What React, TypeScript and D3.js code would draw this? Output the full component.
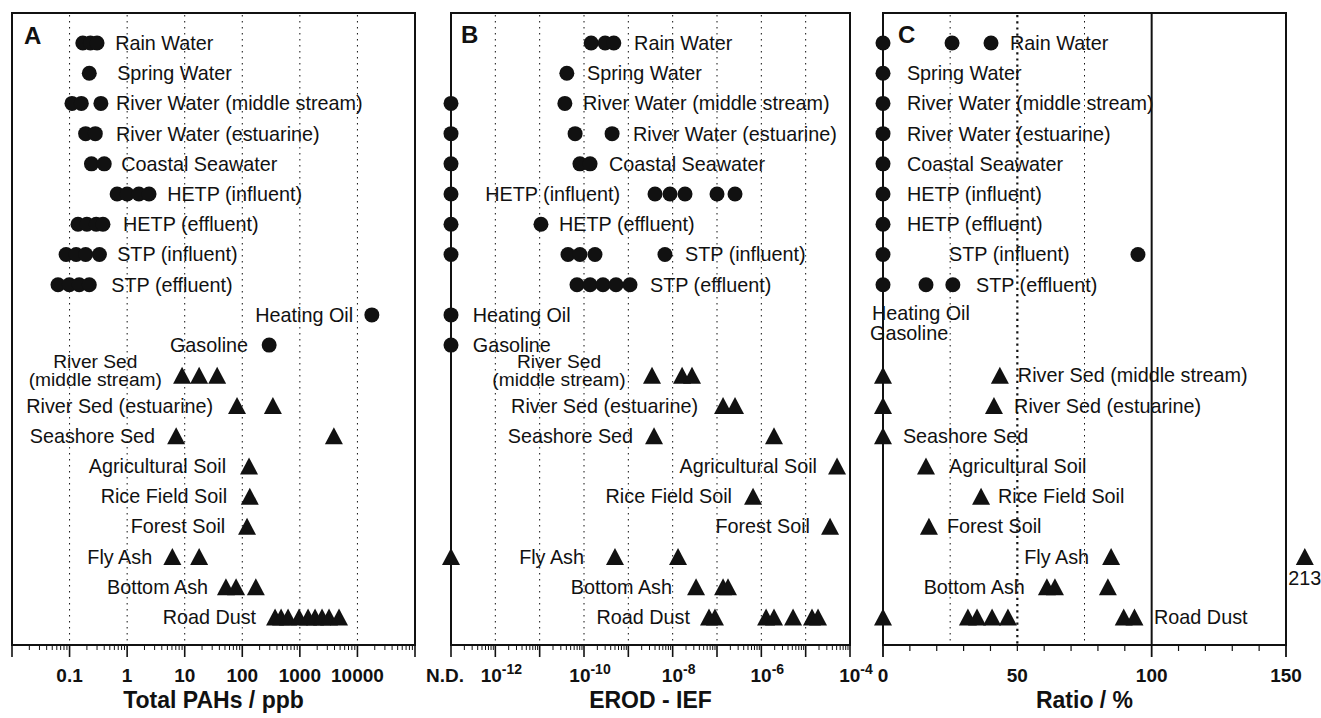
import React from 'react';
import * as d3 from 'd3';

const rows = [
  'Rain Water', 'Spring Water', 'River Water (middle stream)', 'River Water (estuarine)',
  'Coastal Seawater', 'HETP (influent)', 'HETP (effluent)', 'STP (influent)', 'STP (effluent)',
  'Heating Oil', 'Gasoline', 'River Sed (middle stream)', 'River Sed (estuarine)', 'Seashore Sed',
  'Agricultural Soil', 'Rice Field Soil', 'Forest Soil', 'Fly Ash', 'Bottom Ash', 'Road Dust',
];
const circleRowCount = 11;

// Panel A: Total PAHs / ppb
const totalPAHs: number[][] = [
  [0.17, 0.23, 0.3],
  [0.22],
  [0.11, 0.16, 0.35],
  [0.19, 0.28],
  [0.24, 0.4],
  [0.67, 1.0, 1.6, 2.4],
  [0.14, 0.2, 0.29, 0.38],
  [0.087, 0.13, 0.19, 0.33],
  [0.063, 0.099, 0.147, 0.22],
  [17800],
  [293],
  [9.0, 17.8, 36.6],
  [81, 340],
  [7.1, 3900],
  [131],
  [135],
  [121],
  [6.1, 17.8],
  [52, 78, 172],
  [371, 472, 624, 968, 1388, 1836, 2428, 3213, 4790],
];

// Panel B: EROD-IEF (0 = N.D.)
const erodIEF: number[][] = [
  [1.45e-10, 3.0e-10, 4.7e-10],
  [4.1e-11],
  [0, 3.7e-11],
  [0, 6.3e-11, 4.3e-10],
  [0, 8.1e-11, 1.37e-10],
  [0, 4.0e-9, 8.7e-9, 1.9e-8, 1.0e-7, 2.55e-7],
  [0, 1.07e-11],
  [0, 4.35e-11, 8.1e-11, 1.77e-10, 6.7e-9],
  [6.95e-11, 1.37e-10, 2.68e-10, 5.27e-10, 1.09e-9],
  [0],
  [0],
  [3.42e-9, 1.63e-8, 2.73e-8],
  [1.37e-7, 2.55e-7],
  [3.8e-9, 1.93e-6],
  [5.1e-5],
  [6.5e-7],
  [3.55e-5],
  [0, 5.0e-10, 1.32e-8],
  [3.37e-8, 1.37e-7, 1.77e-7],
  [6.6e-8, 9.0e-8, 1.28e-6, 1.93e-6, 5.2e-6, 1.39e-5, 1.9e-5],
];

// Panel C: Ratio / %
const ratio: number[][] = [
  [0, 25.7, 40.2],
  [0], [0], [0], [0], [0], [0],
  [0, 94.9],
  [0, 16.0, 26.0],
  [], [],
  [0, 43.5],
  [0, 41.3],
  [0],
  [16.0],
  [36.5],
  [17.1],
  [84.9, 213],
  [61.0, 64.0, 83.7],
  [0, 31.6, 35.0, 40.6, 46.5, 89.6, 93.6],
];
const ratioMax = 150;
const ratioOffscaleAt = 157; // where off-scale values (>150) are drawn

const ticksA = [0.1, 1, 10, 100, 1000, 10000];
const tickLabelsA = ['0.1', '1', '10', '100', '1000', '10000'];
const ticksB = [-13, -12, -10, -8, -6, -4];
const ticksC = [0, 50, 100, 150];

type Lab = { row: number; text: string; x: number; anchor: 'start' | 'end' | 'middle'; dy?: number };

const labelsA: Lab[] = [
  { row: 0, text: 'Rain Water', x: 0.62, anchor: 'start' },
  { row: 1, text: 'Spring Water', x: 0.67, anchor: 'start' },
  { row: 2, text: 'River Water (middle stream)', x: 0.64, anchor: 'start' },
  { row: 3, text: 'River Water (estuarine)', x: 0.64, anchor: 'start' },
  { row: 4, text: 'Coastal Seawater', x: 0.79, anchor: 'start' },
  { row: 5, text: 'HETP (influent)', x: 4.95, anchor: 'start' },
  { row: 6, text: 'HETP (effluent)', x: 0.85, anchor: 'start' },
  { row: 7, text: 'STP (influent)', x: 0.67, anchor: 'start' },
  { row: 8, text: 'STP (effluent)', x: 0.53, anchor: 'start' },
  { row: 9, text: 'Heating Oil', x: 8430, anchor: 'end' },
  { row: 10, text: 'Gasoline', x: 126, anchor: 'end' },
  { row: 11, text: 'River Sed\n(middle stream)', x: 0.28, anchor: 'middle' },
  { row: 12, text: 'River Sed (estuarine)', x: 31.2, anchor: 'end' },
  { row: 13, text: 'Seashore Sed', x: 3.06, anchor: 'end' },
  { row: 14, text: 'Agricultural Soil', x: 52.5, anchor: 'end' },
  { row: 15, text: 'Rice Field Soil', x: 54.4, anchor: 'end' },
  { row: 16, text: 'Forest Soil', x: 50.5, anchor: 'end' },
  { row: 17, text: 'Fly Ash', x: 2.72, anchor: 'end' },
  { row: 18, text: 'Bottom Ash', x: 25.5, anchor: 'end' },
  { row: 19, text: 'Road Dust', x: 174, anchor: 'end' },
];

const labelsB: Lab[] = [
  { row: 0, text: 'Rain Water', x: 1.35e-9, anchor: 'start' },
  { row: 1, text: 'Spring Water', x: 1.17e-10, anchor: 'start' },
  { row: 2, text: 'River Water (middle stream)', x: 9.5e-11, anchor: 'start' },
  { row: 3, text: 'River Water (estuarine)', x: 1.28e-9, anchor: 'start' },
  { row: 4, text: 'Coastal Seawater', x: 3.66e-10, anchor: 'start' },
  { row: 5, text: 'HETP (influent)', x: 6.5e-10, anchor: 'end' },
  { row: 6, text: 'HETP (effluent)', x: 2.73e-11, anchor: 'start' },
  { row: 7, text: 'STP (influent)', x: 1.9e-8, anchor: 'start' },
  { row: 8, text: 'STP (effluent)', x: 3.08e-9, anchor: 'start' },
  { row: 9, text: 'Heating Oil', x: 3.1e-13, anchor: 'start' },
  { row: 10, text: 'Gasoline', x: 3.1e-13, anchor: 'start' },
  { row: 11, text: 'River Sed\n(middle stream)', x: 2.73e-11, anchor: 'middle' },
  { row: 12, text: 'River Sed (estuarine)', x: 3.73e-8, anchor: 'end' },
  { row: 13, text: 'Seashore Sed', x: 1.28e-9, anchor: 'end' },
  { row: 14, text: 'Agricultural Soil', x: 1.8e-5, anchor: 'end' },
  { row: 15, text: 'Rice Field Soil', x: 2.18e-7, anchor: 'end' },
  { row: 16, text: 'Forest Soil', x: 1.25e-5, anchor: 'end' },
  { row: 17, text: 'Fly Ash', x: 1.0e-10, anchor: 'end' },
  { row: 18, text: 'Bottom Ash', x: 9.67e-9, anchor: 'end' },
  { row: 19, text: 'Road Dust', x: 2.46e-8, anchor: 'end' },
];

const labelsC: Lab[] = [
  { row: 0, text: 'Rain Water', x: 47.3, anchor: 'start' },
  { row: 1, text: 'Spring Water', x: 8.9, anchor: 'start' },
  { row: 2, text: 'River Water (middle stream)', x: 8.9, anchor: 'start' },
  { row: 3, text: 'River Water (estuarine)', x: 8.9, anchor: 'start' },
  { row: 4, text: 'Coastal Seawater', x: 8.9, anchor: 'start' },
  { row: 5, text: 'HETP (influent)', x: 8.9, anchor: 'start' },
  { row: 6, text: 'HETP (effluent)', x: 8.9, anchor: 'start' },
  { row: 7, text: 'STP (influent)', x: 24.6, anchor: 'start' },
  { row: 8, text: 'STP (effluent)', x: 34.6, anchor: 'start' },
  { row: 9, text: 'Heating Oil', x: -4.1, anchor: 'start', dy: -2 },
  { row: 10, text: 'Gasoline', x: -4.8, anchor: 'start', dy: -12 },
  { row: 11, text: 'River Sed (middle stream)', x: 50.2, anchor: 'start' },
  { row: 12, text: 'River Sed (estuarine)', x: 48.8, anchor: 'start' },
  { row: 13, text: 'Seashore Sed', x: 7.4, anchor: 'start' },
  { row: 14, text: 'Agricultural Soil', x: 24.6, anchor: 'start' },
  { row: 15, text: 'Rice Field Soil', x: 42.8, anchor: 'start' },
  { row: 16, text: 'Forest Soil', x: 23.8, anchor: 'start' },
  { row: 17, text: 'Fly Ash', x: 76.7, anchor: 'end' },
  { row: 18, text: 'Bottom Ash', x: 52.8, anchor: 'end' },
  { row: 19, text: 'Road Dust', x: 100.9, anchor: 'start' },
];

const FONT = '"Liberation Sans", Arial, Helvetica, sans-serif';
const INK = '#111';
const TOP = 13;
const BOTTOM = 645;

const y = d3.scalePoint<number>().domain(d3.range(rows.length)).range([43, 617]);

const xA = d3.scaleLog().domain([0.01, 1e5]).range([12, 415]);
const xB = d3.scaleLog().domain([1e-13, 1e-4]).range([451, 850]);
const xC = d3.scaleLinear().domain([0, ratioMax]).range([883, 1286]);

const posA = (v: number) => xA(v);
const posB = (v: number) => (v <= 0 ? xB(1e-13) : xB(v));
const posC = (v: number) => (v > ratioMax ? xC(ratioOffscaleAt) : xC(v));

function Marker({ cx, cy, tri }: { cx: number; cy: number; tri: boolean }) {
  if (!tri) return <circle cx={cx} cy={cy} r={7.5} fill={INK} />;
  const w = 9, h = 8.5;
  return <path d={`M${cx},${cy - h}L${cx + w},${cy + h}L${cx - w},${cy + h}Z`} fill={INK} />;
}

function Labels({ labels, pos }: { labels: Lab[]; pos: (v: number) => number }) {
  return (
    <g fontFamily={FONT} fontSize={19.8} fill={INK}>
      {labels.map((l, i) => {
        const lines = l.text.split('\n');
        const base = (y(l.row) as number) + 7 + (l.dy || 0);
        if (lines.length === 1) {
          return (
            <text key={i} x={pos(l.x)} y={base} textAnchor={l.anchor}>{l.text}</text>
          );
        }
        return (
          <text key={i} x={pos(l.x)} y={base - 14} textAnchor={l.anchor} fontSize={19.2}>
            {lines.map((t, j) => (
              <tspan key={j} x={pos(l.x)} dy={j === 0 ? 0 : 18}>{t}</tspan>
            ))}
          </text>
        );
      })}
    </g>
  );
}

function Points({ data, pos }: { data: number[][]; pos: (v: number) => number }) {
  return (
    <g>
      {data.map((vals, r) =>
        vals.map((v, k) => (
          <Marker key={`${r}-${k}`} cx={pos(v)} cy={y(r) as number} tri={r >= circleRowCount} />
        ))
      )}
    </g>
  );
}

function Frame({ x0, x1 }: { x0: number; x1: number }) {
  return <rect x={x0} y={TOP} width={x1 - x0} height={BOTTOM - TOP} fill="none" stroke={INK} strokeWidth={2} />;
}

function Grid({ xs, width = 1, dash = '1.5,4.5' }: { xs: number[]; width?: number; dash?: string }) {
  return (
    <g stroke={INK} strokeWidth={width} strokeDasharray={dash}>
      {xs.map((x, i) => (
        <line key={i} x1={x} x2={x} y1={TOP + 2} y2={BOTTOM - 1} />
      ))}
    </g>
  );
}

function LogTicks({ scale, d0, d1 }: { scale: d3.ScaleLogarithmic<number, number>; d0: number; d1: number }) {
  const items: { x: number; major: boolean }[] = [];
  for (let d = d0; d <= d1; d++) {
    items.push({ x: scale(Math.pow(10, d)), major: true });
    if (d < d1) for (let k = 2; k <= 9; k++) items.push({ x: scale(k * Math.pow(10, d)), major: false });
  }
  return (
    <g stroke={INK} strokeWidth={1.2}>
      {items.map((t, i) => (
        <line key={i} x1={t.x} x2={t.x} y1={BOTTOM} y2={BOTTOM + (t.major ? 12 : 5)} strokeWidth={t.major ? 1.6 : 1} />
      ))}
    </g>
  );
}

export default function App() {
  const gridA = ticksA.map((v) => xA(v));
  const gridB = d3.range(-12, -4).map((e) => xB(Math.pow(10, e)));
  const ticksCMinor = d3.range(0, ratioMax + 1, 10);
  return (
    <svg width={1321} height={718} style={{ position: 'absolute', left: 0, top: 0, background: '#fff' }}>
      <rect x={0} y={0} width={1321} height={718} fill="#fff" />

      {/* Panel A */}
      <Grid xs={gridA} />
      <Frame x0={12} x1={415} />
      <LogTicks scale={xA} d0={-2} d1={5} />
      <Points data={totalPAHs} pos={posA} />
      <Labels labels={labelsA} pos={posA} />
      <text x={24} y={44} fontFamily={FONT} fontWeight="bold" fontSize={24} fill={INK}>A</text>
      <g fontFamily={FONT} fontWeight="bold" fontSize={19} fill={INK} textAnchor="middle">
        {ticksA.map((v, i) => (
          <text key={i} x={xA(v)} y={682}>{tickLabelsA[i]}</text>
        ))}
      </g>
      <text x={(12 + 415) / 2} y={708} textAnchor="middle" fontFamily={FONT} fontWeight="bold" fontSize={23} fill={INK}>Total PAHs / ppb</text>

      {/* Panel B */}
      <Grid xs={gridB} />
      <Frame x0={451} x1={850} />
      <LogTicks scale={xB} d0={-13} d1={-4} />
      <Points data={erodIEF} pos={posB} />
      <Labels labels={labelsB} pos={posB} />
      <text x={461} y={43} fontFamily={FONT} fontWeight="bold" fontSize={24} fill={INK}>B</text>
      <g fontFamily={FONT} fontWeight="bold" fontSize={19} fill={INK} textAnchor="middle">
        {ticksB.map((e, i) =>
          i === 0 ? (
            <text key={i} x={xB(Math.pow(10, e)) - 6} y={682}>N.D.</text>
          ) : (
            <text key={i} x={xB(Math.pow(10, e)) + 6} y={682}>
              10<tspan fontSize={14} dy={-8}>{String(e)}</tspan>
            </text>
          )
        )}
      </g>
      <text x={(451 + 850) / 2} y={708} textAnchor="middle" fontFamily={FONT} fontWeight="bold" fontSize={23} fill={INK}>EROD - IEF</text>

      {/* Panel C */}
      <Grid xs={[xC(25), xC(75)]} />
      <Grid xs={[xC(50)]} width={2.2} dash="2.2,4" />
      <line x1={xC(100)} x2={xC(100)} y1={TOP} y2={BOTTOM} stroke={INK} strokeWidth={2} />
      <Frame x0={883} x1={1286} />
      <g stroke={INK}>
        {ticksCMinor.map((v, i) => {
          const major = v === 0 || v === 100 || v === 150;
          return <line key={i} x1={xC(v)} x2={xC(v)} y1={BOTTOM} y2={BOTTOM + (major ? 12 : 6)} strokeWidth={major ? 1.8 : 1.2} />;
        })}
      </g>
      <Points data={ratio} pos={posC} />
      <Labels labels={labelsC} pos={posC} />
      <text x={xC(ratioOffscaleAt)} y={(y(17) as number) + 28} textAnchor="middle" fontFamily={FONT} fontSize={19.8} fill={INK}>213</text>
      <text x={898} y={43} fontFamily={FONT} fontWeight="bold" fontSize={24} fill={INK}>C</text>
      <g fontFamily={FONT} fontWeight="bold" fontSize={19} fill={INK} textAnchor="middle">
        {ticksC.map((v, i) => (
          <text key={i} x={xC(v)} y={682}>{String(v)}</text>
        ))}
      </g>
      <text x={(883 + 1286) / 2} y={708} textAnchor="middle" fontFamily={FONT} fontWeight="bold" fontSize={23} fill={INK}>Ratio / %</text>
    </svg>
  );
}
